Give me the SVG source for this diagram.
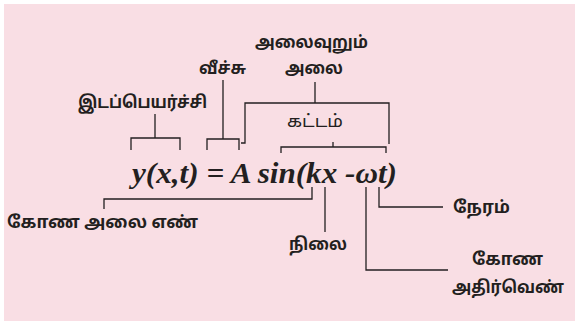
<svg xmlns="http://www.w3.org/2000/svg" width="575" height="321" viewBox="0 0 575 321">
<style>
.t{font-family:"Noto Sans Tamil","Noto Sans",sans-serif;font-weight:bold;font-size:17px;fill:#231f20}
.r{font-weight:normal}
.eq{font-family:"Liberation Serif","Times New Roman",serif;font-weight:bold;font-style:italic;font-size:30px;fill:#231f20}
.c{fill:none;stroke:#231f20;stroke-width:1.3}
</style>
<rect x="0" y="0" width="575" height="321" fill="#ffffff"/>
<rect x="4" y="4" width="571" height="317" fill="#f9dee4"/>
<g id="connectors">
<path class="c" d="M155,114V138M131,150V138H180V150"/>
<path class="c" d="M223,80V139M207,150V139H239V150"/>
<path class="c" d="M241,143H245V103H389V144M315,82V103"/>
<path class="c" d="M333,142V147M281,153V147H386V153"/>
<path class="c" d="M312,187V199H104V209"/>
<path class="c" d="M325,187V232"/>
<path class="c" d="M366,187V270H448"/>
<path class="c" d="M379,187V207H443"/>
</g>
<g id="equation"><text class="eq" x="132" y="183" textLength="265" lengthAdjust="spacingAndGlyphs">y(x,t) = A sin(kx -ωt)</text></g>
<g id="n-displacement"><text class="t" x="78" y="108" textLength="129" lengthAdjust="spacingAndGlyphs">இடப்பெயர்ச்சி</text></g>
<g id="n-amplitude"><text class="t" x="199" y="74" textLength="47" lengthAdjust="spacingAndGlyphs">வீச்சு</text></g>
<g id="n-wave"><text class="t" x="255" y="48" textLength="113" lengthAdjust="spacingAndGlyphs">அலைவுறும்</text><text class="t" x="285" y="74" textLength="58" lengthAdjust="spacingAndGlyphs">அலை</text></g>
<g id="n-phase"><text class="t r" x="287" y="127" textLength="56" lengthAdjust="spacingAndGlyphs">கட்டம்</text></g>
<g id="n-wavenumber"><text class="t" x="7" y="228" textLength="191" lengthAdjust="spacingAndGlyphs">கோண அலை எண்</text></g>
<g id="n-position"><text class="t" x="289" y="250" textLength="58" lengthAdjust="spacingAndGlyphs">நிலை</text></g>
<g id="n-time"><text class="t" x="453" y="213" textLength="57" lengthAdjust="spacingAndGlyphs">நேரம்</text></g>
<g id="n-angfreq"><text class="t" x="472" y="265" textLength="71" lengthAdjust="spacingAndGlyphs">கோண</text><text class="t" x="452" y="293" textLength="112" lengthAdjust="spacingAndGlyphs">அதிர்வெண்</text></g>
</svg>
